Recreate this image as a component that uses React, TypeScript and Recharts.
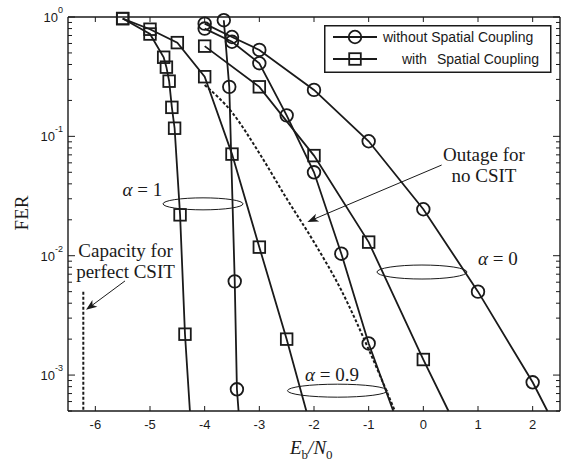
import React from 'react';
import { LineChart, Line, XAxis, YAxis, ReferenceDot, ReferenceLine, Legend } from 'recharts';

// ---------- axes ----------
const X_MIN = -6.5;
const X_MAX = 2.5;
const Y_MIN = 5e-4;
const Y_MAX = 1;
const xTicks = [-6, -5, -4, -3, -2, -1, 0, 1, 2];
const yMajorTicks = [1e-3, 1e-2, 1e-1, 1];
const yMajorExponents = ['-3', '-2', '-1', '0'];
const yMinorTicks = [
  5e-4, 6e-4, 7e-4, 8e-4, 9e-4,
  2e-3, 3e-3, 4e-3, 5e-3, 6e-3, 7e-3, 8e-3, 9e-3,
  2e-2, 3e-2, 4e-2, 5e-2, 6e-2, 7e-2, 8e-2, 9e-2,
  0.2, 0.3, 0.4, 0.5, 0.6, 0.7, 0.8, 0.9,
];
const yAllTicks = [...yMinorTicks, ...yMajorTicks].sort((a, b) => a - b);

// ---------- series (Eb/N0 in dB, FER) ----------
// without spatial coupling (circles)
const noScAlpha0 = [
  { x: -4.0, y: 0.88 }, { x: -3.5, y: 0.68 }, { x: -3.0, y: 0.53 }, { x: -2.0, y: 0.245 },
  { x: -1.0, y: 0.091 }, { x: 0.0, y: 0.0245 }, { x: 1.0, y: 0.005 }, { x: 2.0, y: 0.00087 },
  { x: 2.27, y: 5e-4 },
];
const noScAlpha09 = [
  { x: -4.0, y: 0.80 }, { x: -3.5, y: 0.62 }, { x: -3.0, y: 0.41 }, { x: -2.5, y: 0.15 },
  { x: -2.0, y: 0.05 }, { x: -1.5, y: 0.0104 }, { x: -1.0, y: 0.00184 }, { x: -0.55, y: 5e-4 },
];
const noScAlpha1 = [
  { x: -3.65, y: 0.94 }, { x: -3.55, y: 0.26 }, { x: -3.45, y: 0.0061 }, { x: -3.41, y: 0.00076 },
  { x: -3.38, y: 5e-4 },
];
// with spatial coupling (squares)
const scAlpha0 = [
  { x: -4.0, y: 0.57 }, { x: -3.0, y: 0.26 }, { x: -2.0, y: 0.069 }, { x: -1.0, y: 0.013 },
  { x: 0.0, y: 0.00135 }, { x: 0.46, y: 5e-4 },
];
const scAlpha09 = [
  { x: -5.5, y: 0.97 }, { x: -5.0, y: 0.79 }, { x: -4.5, y: 0.61 }, { x: -4.0, y: 0.316 },
  { x: -3.5, y: 0.071 }, { x: -3.0, y: 0.0118 }, { x: -2.5, y: 0.002 }, { x: -2.14, y: 5e-4 },
];
const scAlpha1 = [
  { x: -5.5, y: 0.97 }, { x: -5.0, y: 0.72 }, { x: -4.75, y: 0.46 }, { x: -4.7, y: 0.38 },
  { x: -4.65, y: 0.29 }, { x: -4.6, y: 0.175 }, { x: -4.55, y: 0.117 }, { x: -4.45, y: 0.022 },
  { x: -4.36, y: 0.0022 }, { x: -4.27, y: 5e-4 },
];
// bounds
const outageNoCsit = [
  { x: -4.0, y: 0.269 }, { x: -3.5, y: 0.159 }, { x: -3.0, y: 0.0723 }, { x: -2.5, y: 0.0301 },
  { x: -2.0, y: 0.013 }, { x: -1.5, y: 0.00513 }, { x: -1.0, y: 0.00164 }, { x: -0.52, y: 5e-4 },
];
const capacityPerfectCsit = [{ x: -6.22, y: 0.005 }, { x: -6.22, y: 5e-4 }];

const legendLabels = ['without', 'with'];
const legendSuffix = 'Spatial Coupling';

// ---------- styling ----------
const INK = '#1a1a1a';
const SANS = '"Liberation Sans", Arial, sans-serif';
const SERIF = '"Liberation Serif", "Times New Roman", serif';

const majorIndex = (v: number) =>
  yMajorTicks.findIndex((t) => Math.abs(Math.log10(t) - Math.log10(v)) < 1e-6);

const LeftTick = (props: any) => {
  const { x, y, payload } = props;
  const idx = majorIndex(payload.value);
  const len = idx >= 0 ? 7 : 4;
  return (
    <g>
      <line x1={x} x2={x + len} y1={y} y2={y} stroke={INK} strokeWidth={1} />
      {idx >= 0 && (
        <text x={x - 5} y={y + 5} textAnchor="end" fontFamily={SANS} fontSize={13} fill={INK}>
          10<tspan dy={-9} fontSize={9}>{yMajorExponents[idx]}</tspan>
        </text>
      )}
    </g>
  );
};

const BottomTick = (props: any) => {
  const { x, y, payload } = props;
  return (
    <g>
      <line x1={x} x2={x} y1={y} y2={y - 5} stroke={INK} strokeWidth={1} />
      <text x={x} y={y + 18} textAnchor="middle" fontFamily={SANS} fontSize={13} fill={INK}>
        {String(payload.value)}
      </text>
    </g>
  );
};

// mirrored tick marks on the top and right edges of the frame
const topTickShape = (p: any) => (
  <line x1={p.cx} x2={p.cx} y1={p.cy} y2={p.cy + 5} stroke={INK} strokeWidth={1} />
);
const rightTickShape = (major: boolean) => (p: any) => (
  <line x1={p.cx} x2={p.cx - (major ? 7 : 4)} y1={p.cy} y2={p.cy} stroke={INK} strokeWidth={1} />
);

const circleDot = (p: any) => {
  const { cx, cy, payload, index } = p;
  if (payload.y <= Y_MIN) return <g key={`c${index}`} />;
  return <circle key={`c${index}`} cx={cx} cy={cy} r={6.3} fill="none" stroke={INK} strokeWidth={1.8} />;
};

const squareDot = (p: any) => {
  const { cx, cy, payload, index } = p;
  if (payload.y <= Y_MIN) return <g key={`s${index}`} />;
  return <rect key={`s${index}`} x={cx - 5.8} y={cy - 5.8} width={11.6} height={11.6} fill="none" stroke={INK} strokeWidth={1.8} />;
};

const Arrow = (p: any) => {
  const { x1, y1, x2, y2 } = p;
  const dx = x2 - x1;
  const dy = y2 - y1;
  const L = Math.sqrt(dx * dx + dy * dy) || 1;
  const ux = dx / L;
  const uy = dy / L;
  const px = -uy;
  const py = ux;
  const head = 11;
  const wing = 4.2;
  const notch = 8;
  const pts = [
    [x2, y2],
    [x2 - ux * head + px * wing, y2 - uy * head + py * wing],
    [x2 - ux * notch, y2 - uy * notch],
    [x2 - ux * head - px * wing, y2 - uy * head - py * wing],
  ]
    .map((q) => q.join(','))
    .join(' ');
  return (
    <g>
      <line x1={x1} y1={y1} x2={x2 - ux * 6} y2={y2 - uy * 6} stroke={INK} strokeWidth={1} />
      <polygon points={pts} fill={INK} stroke="none" />
    </g>
  );
};

const ellipseShape = (rx: number, ry: number) => (p: any) => (
  <ellipse cx={p.cx} cy={p.cy} rx={rx} ry={ry} fill="none" stroke={INK} strokeWidth={1} />
);

const alphaText = (value: string) => (p: any) => (
  <text x={p.cx} y={p.cy} textAnchor="middle" fontFamily={SERIF} fontSize={19} fill={INK}>
    <tspan fontStyle="italic">α</tspan>
    {` = ${value}`}
  </text>
);

const twoLineText = (l1: string, l2: string) => (p: any) => (
  <text x={p.cx} y={p.cy} textAnchor="middle" fontFamily={SERIF} fontSize={19} fill={INK}>
    <tspan x={p.cx}>{l1}</tspan>
    <tspan x={p.cx} dy={21}>{l2}</tspan>
  </text>
);

const LegendBox = () => (
  <svg width={228} height={49} style={{ display: 'block' }}>
    <rect x={0.75} y={0.75} width={226} height={46.5} fill="#ffffff" stroke={INK} strokeWidth={1.5} />
    <line x1={9} x2={53} y1={12} y2={12} stroke={INK} strokeWidth={1.8} />
    <circle cx={31} cy={12} r={6.3} fill="none" stroke={INK} strokeWidth={1.8} />
    <text x={59} y={17} fontFamily={SANS} fontSize={14} fill={INK}>
      {legendLabels[0]} {legendSuffix}
    </text>
    <line x1={9} x2={53} y1={34} y2={34} stroke={INK} strokeWidth={1.8} />
    <rect x={25.2} y={28.2} width={11.6} height={11.6} fill="none" stroke={INK} strokeWidth={1.8} />
    <text y={39} fontFamily={SANS} fontSize={14} fill={INK}>
      <tspan x={78}>{legendLabels[1]}</tspan>
      <tspan x={113}>{legendSuffix}</tspan>
    </text>
  </svg>
);

const XTitle = () => (
  <text x={290} y={454} fontFamily={SERIF} fontSize={19} fill={INK}>
    <tspan fontStyle="italic">E</tspan>
    <tspan dy={5} fontSize={13}>b</tspan>
    <tspan dy={-5} fontStyle="italic">/N</tspan>
    <tspan dy={5} fontSize={13}>0</tspan>
  </text>
);

const YTitle = () => (
  <text transform="translate(28,213) rotate(-90)" textAnchor="middle" fontFamily={SERIF} fontSize={19} fill={INK}>
    FER
  </text>
);

const FRAME = { stroke: INK, strokeWidth: 1.4 };

export default function App() {
  return (
    <div style={{ position: 'absolute', left: 0, top: 0, background: '#ffffff' }}>
      <LineChart width={562} height={462} margin={{ top: 17, right: 2, bottom: 0, left: 0 }}>
        <XAxis
          dataKey="x"
          type="number"
          domain={[X_MIN, X_MAX]}
          ticks={xTicks}
          interval={0}
          tick={(p: any) => <BottomTick {...p} />}
          tickLine={false}
          tickSize={0}
          tickMargin={0}
          axisLine={FRAME}
          height={51}
          label={() => <XTitle />}
        />
        <YAxis
          type="number"
          scale="log"
          domain={[Y_MIN, Y_MAX]}
          ticks={yAllTicks}
          interval={0}
          tick={(p: any) => <LeftTick {...p} />}
          tickLine={false}
          tickSize={0}
          tickMargin={0}
          axisLine={FRAME}
          width={68}
          label={() => <YTitle />}
        />

        {/* box frame: right and top edges with inward ticks */}
        <ReferenceLine x={X_MAX} stroke={INK} strokeWidth={1.4} ifOverflow="visible" />
        <ReferenceLine y={Y_MAX} stroke={INK} strokeWidth={1.4} ifOverflow="visible" />
        {xTicks.map((t) => (
          <ReferenceDot key={`tt${t}`} x={t} y={Y_MAX} r={0} ifOverflow="visible" shape={topTickShape} />
        ))}
        {yAllTicks.map((t) => (
          <ReferenceDot key={`rt${t}`} x={X_MAX} y={t} r={0} ifOverflow="visible"
            shape={rightTickShape(majorIndex(t) >= 0)} />
        ))}

        <Line data={outageNoCsit} dataKey="y" name="Outage for no CSIT" type="monotone" stroke={INK}
          strokeWidth={2} strokeDasharray="3 2" dot={false} activeDot={false} isAnimationActive={false} legendType="none" />
        <Line data={capacityPerfectCsit} dataKey="y" name="Capacity for perfect CSIT" type="linear" stroke={INK}
          strokeWidth={2} strokeDasharray="3 2" dot={false} activeDot={false} isAnimationActive={false} legendType="none" />

        <Line data={noScAlpha0} dataKey="y" name="without SC, α=0" type="linear" stroke={INK} strokeWidth={1.8}
          dot={circleDot} activeDot={false} isAnimationActive={false} />
        <Line data={noScAlpha09} dataKey="y" name="without SC, α=0.9" type="linear" stroke={INK} strokeWidth={1.8}
          dot={circleDot} activeDot={false} isAnimationActive={false} />
        <Line data={noScAlpha1} dataKey="y" name="without SC, α=1" type="linear" stroke={INK} strokeWidth={1.8}
          dot={circleDot} activeDot={false} isAnimationActive={false} />
        <Line data={scAlpha0} dataKey="y" name="with SC, α=0" type="linear" stroke={INK} strokeWidth={1.8}
          dot={squareDot} activeDot={false} isAnimationActive={false} />
        <Line data={scAlpha09} dataKey="y" name="with SC, α=0.9" type="linear" stroke={INK} strokeWidth={1.8}
          dot={squareDot} activeDot={false} isAnimationActive={false} />
        <Line data={scAlpha1} dataKey="y" name="with SC, α=1" type="linear" stroke={INK} strokeWidth={1.8}
          dot={squareDot} activeDot={false} isAnimationActive={false} />

        {/* annotations */}
        <ReferenceDot x={-4.03} y={0.0272} r={0} ifOverflow="visible" shape={ellipseShape(40, 6)} />
        <ReferenceDot x={-5.14} y={0.0317} r={0} ifOverflow="visible" shape={alphaText('1')} />
        <ReferenceDot x={-1.57} y={7.4e-4} r={0} ifOverflow="visible" shape={ellipseShape(50, 6.5)} />
        <ReferenceDot x={-1.67} y={9.0e-4} r={0} ifOverflow="visible" shape={alphaText('0.9')} />
        <ReferenceDot x={-0.025} y={0.0073} r={0} ifOverflow="visible" shape={ellipseShape(45, 7)} />
        <ReferenceDot x={1.365} y={0.0084} r={0} ifOverflow="visible" shape={alphaText('0')} />
        <ReferenceDot x={1.109} y={0.0622} r={0} ifOverflow="visible" shape={twoLineText('Outage for', 'no CSIT')} />
        <ReferenceDot x={-5.448} y={0.0098} r={0} ifOverflow="visible" shape={twoLineText('Capacity for', 'perfect CSIT')} />
        <ReferenceLine segment={[{ x: 0.335, y: 0.0575 }, { x: -2.12, y: 0.0192 }]} ifOverflow="visible"
          shape={(p: any) => <Arrow {...p} />} />
        <ReferenceLine segment={[{ x: -5.457, y: 0.00615 }, { x: -6.17, y: 0.00352 }]} ifOverflow="visible"
          shape={(p: any) => <Arrow {...p} />} />

        <Legend
          layout="horizontal"
          verticalAlign="middle"
          align="center"
          wrapperStyle={{ position: 'absolute', left: 324, top: 25, width: 228, height: 49 }}
          content={() => <LegendBox />}
        />
      </LineChart>
    </div>
  );
}
